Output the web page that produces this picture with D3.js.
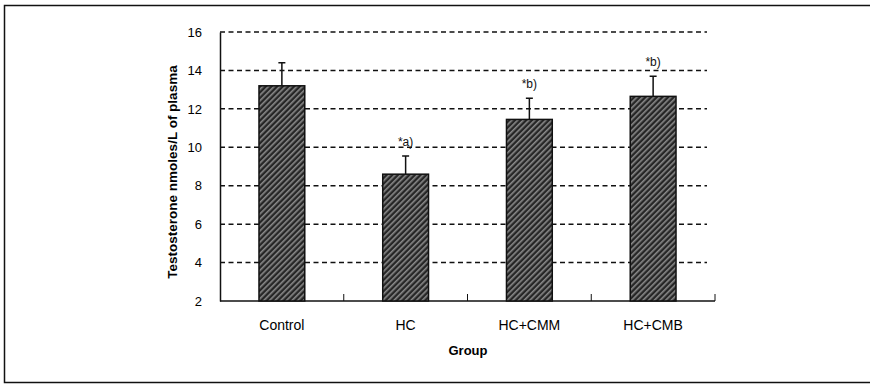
<!DOCTYPE html>
<html>
<head>
<meta charset="utf-8">
<script src="https://cdn.jsdelivr.net/npm/d3@7"></script>
<style>
  body { margin: 0; background: #fff; }
  text { font-family: "Liberation Sans", Arial, sans-serif; fill: #111; }
</style>
</head>
<body>
<div id="chart"></div>
<script>
var svgWidth = 870;
var svgHeight = 385;

// chart data
var groups = ["Control", "HC", "HC+CMM", "HC+CMB"];
var means = [13.2, 8.6, 11.45, 12.65];
var errors = [1.2, 0.95, 1.1, 1.05];
var marks = ["", "*a)", "*b)", "*b)"];
var yTicks = [2, 4, 6, 8, 10, 12, 14, 16];

var margin = { top: 32, right: 155, bottom: 84, left: 220 };
var width = svgWidth - margin.left - margin.right;
var height = svgHeight - margin.top - margin.bottom;

var svg = d3.select("#chart")
  .append("svg")
  .attr("width", svgWidth)
  .attr("height", svgHeight);

// hatched fill for the bars
var defs = svg.append("defs");
var pat = defs.append("pattern")
  .attr("id", "hatch")
  .attr("patternUnits", "userSpaceOnUse")
  .attr("width", 4)
  .attr("height", 4)
  .attr("patternTransform", "rotate(-45)");
pat.append("rect").attr("width", 4).attr("height", 4).attr("fill", "#262626");
pat.append("rect").attr("width", 4).attr("height", 1.6).attr("fill", "#8a8a8a");

// outer frame
svg.append("rect")
  .attr("x", 4.5)
  .attr("y", 5.5)
  .attr("width", 875)
  .attr("height", 377)
  .attr("fill", "none")
  .attr("stroke", "#111")
  .attr("stroke-width", 1.5);

var chartGroup = svg.append("g")
  .attr("transform", `translate(${margin.left}, ${margin.top})`);

var x = d3.scaleBand()
  .domain(groups)
  .range([0, width])
  .paddingInner(0.63)
  .paddingOuter(0.315);

var y = d3.scaleLinear()
  .domain([2, 16])
  .range([height, 0]);

// dashed gridlines
chartGroup.append("g")
  .selectAll("line")
  .data(yTicks.slice(1))
  .enter()
  .append("line")
  .attr("x1", 0)
  .attr("x2", width - 8)
  .attr("y1", d => y(d))
  .attr("y2", d => y(d))
  .attr("stroke", "#111")
  .attr("stroke-width", 1.5)
  .attr("stroke-dasharray", "5,3.5");

// y axis
var leftAxis = d3.axisLeft(y).tickValues(yTicks).tickSize(0).tickPadding(18);
var yAxis = chartGroup.append("g").call(leftAxis);
yAxis.select(".domain").attr("stroke", "#111").attr("stroke-width", 1.5);
yAxis.selectAll("text")
  .style("font-size", "13px")
  .style("font-family", "'Liberation Sans', Arial, sans-serif")
  .style("fill", "#000");

// x axis with ticks between groups
var step = x.step();
var xAxis = chartGroup.append("g")
  .attr("transform", `translate(0, ${height})`);
xAxis.append("line")
  .attr("x1", 0).attr("x2", width)
  .attr("stroke", "#111").attr("stroke-width", 1.5);
xAxis.selectAll(".sep")
  .data(groups)
  .enter()
  .append("line")
  .attr("class", "sep")
  .attr("x1", (d, i) => (i + 1) * step)
  .attr("x2", (d, i) => (i + 1) * step)
  .attr("y1", 0).attr("y2", -7)
  .attr("stroke", "#111").attr("stroke-width", 1);
xAxis.selectAll(".lbl")
  .data(groups)
  .enter()
  .append("text")
  .attr("class", "lbl")
  .attr("x", d => x(d) + x.bandwidth() / 2)
  .attr("y", 29)
  .attr("text-anchor", "middle")
  .style("font-size", "14px")
  .style("fill", "#000")
  .text(d => d);

// error bars
chartGroup.selectAll(".err")
  .data(groups)
  .enter()
  .append("path")
  .attr("class", "err")
  .attr("d", (d, i) => {
    var cx = x(d) + x.bandwidth() / 2;
    var top = y(means[i] + errors[i]);
    return `M${cx},${y(means[i])}V${top}M${cx - 3.5},${top}H${cx + 3.5}`;
  })
  .attr("fill", "none")
  .attr("stroke", "#111")
  .attr("stroke-width", 1.5);

// bars
chartGroup.selectAll(".bar")
  .data(groups)
  .enter()
  .append("rect")
  .attr("class", "bar")
  .attr("x", d => x(d))
  .attr("y", (d, i) => y(means[i]))
  .attr("width", x.bandwidth())
  .attr("height", (d, i) => height - y(means[i]))
  .attr("fill", "url(#hatch)")
  .attr("stroke", "#111")
  .attr("stroke-width", 1.5);

// significance marks
chartGroup.selectAll(".mark")
  .data(groups)
  .enter()
  .append("text")
  .attr("class", "mark")
  .attr("x", d => x(d) + x.bandwidth() / 2)
  .attr("y", (d, i) => y(means[i] + errors[i]) - 10)
  .attr("text-anchor", "middle")
  .style("font-size", "12px")
  .text((d, i) => marks[i]);

// axis titles
chartGroup.append("text")
  .attr("transform", "rotate(-90)")
  .attr("x", -140)
  .attr("y", -43)
  .attr("text-anchor", "middle")
  .style("font-size", "13.5px")
  .style("font-weight", "bold")
  .style("fill", "#000")
  .text("Testosterone nmoles/L of plasma");

chartGroup.append("text")
  .attr("x", 248)
  .attr("y", height + 54)
  .attr("text-anchor", "middle")
  .style("font-size", "13px")
  .style("font-weight", "bold")
  .style("fill", "#000")
  .text("Group");
</script>
</body>
</html>
